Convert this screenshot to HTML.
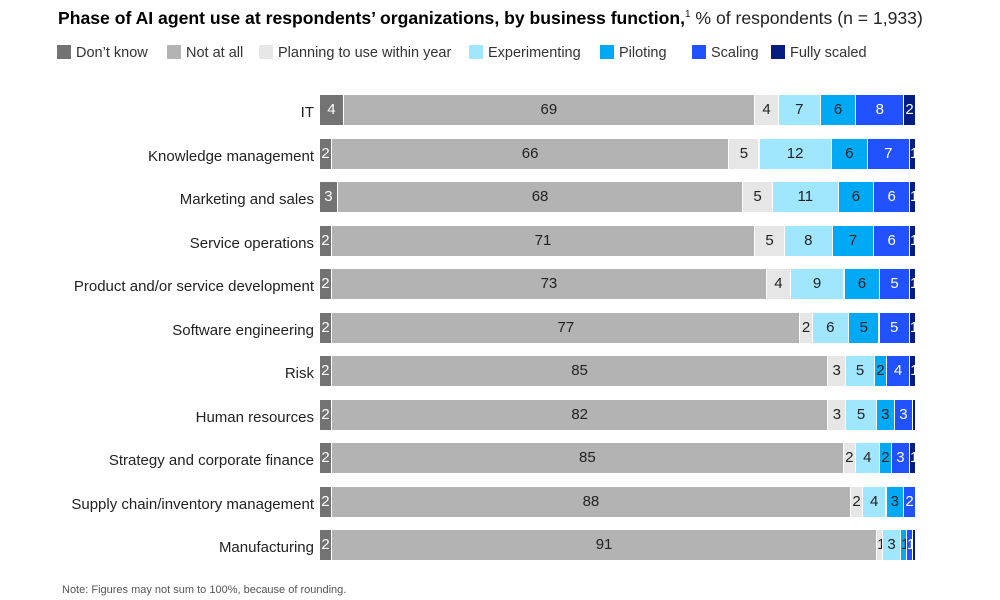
<!DOCTYPE html>
<html><head><meta charset="utf-8"><style>
body{margin:0;width:1000px;height:600px;background:#fff;font-family:"Liberation Sans",sans-serif;position:relative;overflow:hidden;color:#222}
.t{position:absolute;left:58px;top:8px;font-size:17.6px;white-space:nowrap}
.t b{font-weight:bold;color:#000}
.lg{position:absolute;top:45px;font-size:14.5px;white-space:nowrap;color:#333}
.lg i{display:inline-block;width:14px;height:14px;vertical-align:-2px;margin-right:5px}
.lab{position:absolute;right:686px;font-size:15px;white-space:nowrap;color:#222}
.seg{position:absolute;height:30px;box-sizing:border-box;border-right:1.5px solid #fff;font-size:15px;text-align:center;line-height:30px;overflow:hidden}
.note{position:absolute;left:62px;top:584px;font-size:11px;color:#555}
</style></head><body>
<div class="t"><b>Phase of AI agent use at respondents’ organizations, by business function,</b><sup style="font-size:10px">1</sup> % of respondents (n = 1,933)</div>
<div class="lg" style="left:57px"><i style="background:#737373"></i>Don’t know</div>
<div class="lg" style="left:167px"><i style="background:#b3b3b3"></i>Not at all</div>
<div class="lg" style="left:259px"><i style="background:#e6e6e6"></i>Planning to use within year</div>
<div class="lg" style="left:469px"><i style="background:#a0e6ff"></i>Experimenting</div>
<div class="lg" style="left:600px"><i style="background:#00a9f4"></i>Piloting</div>
<div class="lg" style="left:692px"><i style="background:#2251ff"></i>Scaling</div>
<div class="lg" style="left:771px"><i style="background:#051c80"></i>Fully scaled</div>
<div id="c"></div>
<div class="note">Note: Figures may not sum to 100%, because of rounding.</div>
<script>
var rows=[["IT",[4,69,4,7,6,8,2]],["Knowledge management",[2,66,5,12,6,7,1]],["Marketing and sales",[3,68,5,11,6,6,1]],["Service operations",[2,71,5,8,7,6,1]],["Product and/or service development",[2,73,4,9,6,5,1]],["Software engineering",[2,77,2,6,5,5,1]],["Risk",[2,85,3,5,2,4,1]],["Human resources",[2,82,3,5,3,3,0.5]],["Strategy and corporate finance",[2,85,2,4,2,3,1]],["Supply chain/inventory management",[2,88,2,4,3,2,0]],["Manufacturing",[2,91,1,3,1,1,0.5]]];
var cols=["#737373","#b3b3b3","#e6e6e6","#a0e6ff","#00a9f4","#2251ff","#051c80"];
var tc=["#fff","#222","#222","#222","#222","#fff","#fff"];
var h="";
rows.forEach(function(r,i){
 var y=95+i*43.5, s=r[1].reduce(function(a,b){return a+b},0), x=320;
 h+='<div class="lab" style="top:'+(y+9)+'px">'+r[0]+'</div>';
 r[1].forEach(function(v,j){
  if(!v)return; var w=v/s*596;
  var txt=(v===0.5)?"":v;
  h+='<div class="seg" style="left:'+x.toFixed(1)+'px;top:'+y+'px;width:'+w.toFixed(1)+'px;background:'+cols[j]+';color:'+tc[j]+'">'+txt+'</div>';
  x+=w;
 });
});
document.getElementById("c").innerHTML=h;
</script>
</body></html>
